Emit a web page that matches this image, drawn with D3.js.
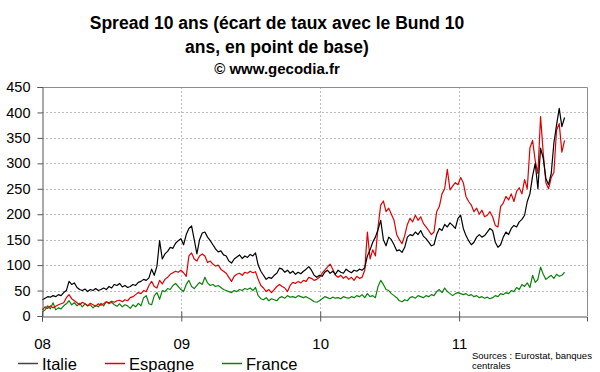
<!DOCTYPE html>
<html><head><meta charset="utf-8">
<script src="https://cdn.jsdelivr.net/npm/d3@7/dist/d3.min.js"></script>
<style>
html,body{margin:0;padding:0;background:#fff;}
svg{display:block;font-family:"Liberation Sans",Arial,sans-serif;}
</style></head>
<body><svg id="c" width="600" height="372"></svg>
<script>
// ---- DATA (weekly readings, basis points) ----
const startDate = "2008-01-02";   // first weekly observation
const seriesNames = ["Italie", "Espagne", "France"];
const yTicks = [0,50,100,150,200,250,300,350,400,450];
const xTickLabels = ["08","09","10","11"];
const xTickYears = [2008,2009,2010,2011];

const italie = [32,35,38,37,40,38,42,40,46,50,68,62,65,56,52,50,53,48,52,50,54,50,52,55,52,58,55,62,60,64,57,60,56,58,62,60,66,
68,72,70,75,92,80,98,148,112,122,127,135,133,143,148,152,140,160,172,177,150,122,150,163,165,155,148,140,132,126,128,120,118,108,104,112,116,120,113,118,115,121,118,124,
100,88,80,72,76,74,80,84,94,92,86,90,84,88,82,86,83,88,92,97,90,80,76,80,78,86,90,84,88,82,90,86,84,92,88,85,90,88,92,90,
95,118,130,145,155,170,188,150,138,155,150,140,128,130,125,135,155,160,158,165,160,168,157,152,145,138,140,160,172,168,180,175,183,178,172,192,198,172,158,148,140,145,155,160,155,158,165,172,168,145,135,140,155,165,160,172,178,175,185,190,198,225,240,275,300,250,330,310,270,258,280,340,375,408,372,390];

const espagne = [12,18,15,20,16,19,22,24,26,36,42,34,30,26,22,27,24,20,25,22,19,24,21,24,28,26,29,27,30,31,28,32,30,36,38,42,46,
44,50,48,60,68,58,55,70,63,72,76,82,85,88,86,90,85,78,118,124,112,108,118,122,118,105,108,102,98,100,92,88,84,76,68,78,82,84,80,86,84,88,85,87,
72,60,55,48,52,46,52,58,62,58,55,48,60,66,64,68,65,70,68,76,74,70,72,76,84,90,96,102,92,80,76,80,74,78,72,76,70,78,74,76,
90,165,112,130,118,175,218,226,205,212,200,188,160,150,142,158,180,192,185,198,188,195,182,175,168,160,165,205,215,240,250,288,248,255,262,258,272,262,235,225,218,205,212,200,208,195,198,205,195,178,175,215,222,235,228,240,225,245,252,240,268,250,330,345,305,280,392,320,262,250,272,282,365,378,322,345];

const france = [8,12,20,14,26,12,16,14,20,24,30,22,26,20,25,18,24,20,22,16,21,18,25,20,28,24,27,22,19,24,18,22,20,15,22,18,25,
20,36,40,24,22,40,46,33,50,48,54,52,60,64,58,52,48,62,70,58,54,60,66,62,76,65,60,62,58,60,56,52,50,48,46,50,48,52,50,54,52,55,50,56,
40,34,32,36,30,34,32,30,36,38,35,40,37,38,36,40,38,36,38,35,32,28,27,30,34,38,36,34,37,35,36,34,38,36,35,38,36,40,38,42,
36,44,38,40,36,58,70,62,52,50,44,40,36,30,28,32,30,36,38,35,40,38,36,40,38,42,40,48,52,46,55,48,44,40,44,46,44,42,44,40,42,38,40,36,38,35,37,34,36,40,38,44,42,46,44,50,48,56,52,62,58,65,56,80,66,72,96,82,72,76,80,74,82,78,80,86];

const colors = {"Italie":"#000000","Espagne":"#e00000","France":"#0a820a"};

// ---- LAYOUT ----
const svg = d3.select("#c");
const L = 42, R = 587, T = 87, B = 316;

const parse = d3.timeParse("%Y-%m-%d");
const t0 = parse(startDate);
const dates = italie.map((_, i) => d3.timeDay.offset(t0, 7*i));

const x = d3.scaleTime().domain([new Date(2008,0,1), new Date(2011,11,3)]).range([L, R]);
const y = d3.scaleLinear().domain([0, 450]).range([B, T]);

// title
const title = svg.append("g").attr("font-weight","bold").attr("text-anchor","middle").attr("fill","#000");
title.append("text").attr("x",277).attr("y",29).attr("font-size","17.5px").text("Spread 10 ans (écart de taux avec le Bund 10");
title.append("text").attr("x",277).attr("y",53).attr("font-size","17.5px").text("ans, en point de base)");
title.append("text").attr("x",277).attr("y",74).attr("font-size","15px").text("© www.gecodia.fr");

// grid
const grid = svg.append("g").attr("stroke","#bdbdbd").attr("stroke-width",1).attr("stroke-dasharray","2,2");
yTicks.filter(v => v > 0 && v < 450).forEach(v => {
  grid.append("line").attr("x1",L).attr("x2",R).attr("y1",Math.round(y(v))+0.5).attr("y2",Math.round(y(v))+0.5);
});
xTickYears.slice(1).forEach(yr => {
  const xx = Math.round(x(new Date(yr,0,1)))+0.5;
  grid.append("line").attr("x1",xx).attr("x2",xx).attr("y1",T).attr("y2",B);
});

// frame top/right
svg.append("path").attr("d",`M${L},${T+0.5}H${R+0.5}V${B}`).attr("fill","none").attr("stroke","#8c8c8c").attr("stroke-width",1);

// lines
const line = d3.line().x((d,i) => x(dates[i])).y(d => y(d));
const series = {"Italie":italie,"Espagne":espagne,"France":france};
["France","Espagne","Italie"].forEach(n => {
  svg.append("path").datum(series[n]).attr("d", line).attr("fill","none")
    .attr("stroke", colors[n]).attr("stroke-width",1.2).attr("stroke-linejoin","round");
});

// y axis
const yAxis = d3.axisLeft(y).tickValues(yTicks).tickSize(5).tickPadding(7).tickFormat(d3.format("d"));
const gy = svg.append("g").attr("transform",`translate(${L+0.5},0)`).call(yAxis);
gy.select(".domain").attr("stroke","#555");
gy.selectAll(".tick line").attr("stroke","#555");
gy.selectAll("text").attr("font-size","14.5px").attr("fill","#000").attr("font-family","'Liberation Sans',Arial,sans-serif");

// x axis
const xAxis = d3.axisBottom(x).tickValues(xTickYears.map(yr => new Date(yr,0,1)))
  .tickSize(5).tickPadding(17).tickFormat((d,i) => xTickLabels[i]);
const gx = svg.append("g").attr("transform",`translate(0,${B+0.5})`).call(xAxis);
gx.select(".domain").attr("stroke","#555");
gx.selectAll(".tick line").attr("stroke","#555").attr("y1",-5);
gx.selectAll("text").attr("font-size","15px").attr("fill","#000").attr("font-family","'Liberation Sans',Arial,sans-serif");

// legend
const legX = [18, 105, 222];
const leg = svg.append("g");
seriesNames.forEach((n,i) => {
  leg.append("line").attr("x1",legX[i]).attr("x2",legX[i]+20).attr("y1",363.5).attr("y2",363.5)
    .attr("stroke", n === "Italie" ? "#444" : colors[n]).attr("stroke-width",1.5);
  leg.append("text").attr("x",legX[i]+24).attr("y",370).attr("font-size","16.5px").attr("fill","#000").text(n);
});

// sources
const src = svg.append("g").attr("font-family","'Liberation Sans Narrow','Arial Narrow','Liberation Sans',sans-serif").attr("font-size","9.5px").attr("fill","#000");
src.append("text").attr("x",472).attr("y",359).text("Sources : Eurostat, banques");
src.append("text").attr("x",472).attr("y",369).text("centrales");
</script>
</body></html>
